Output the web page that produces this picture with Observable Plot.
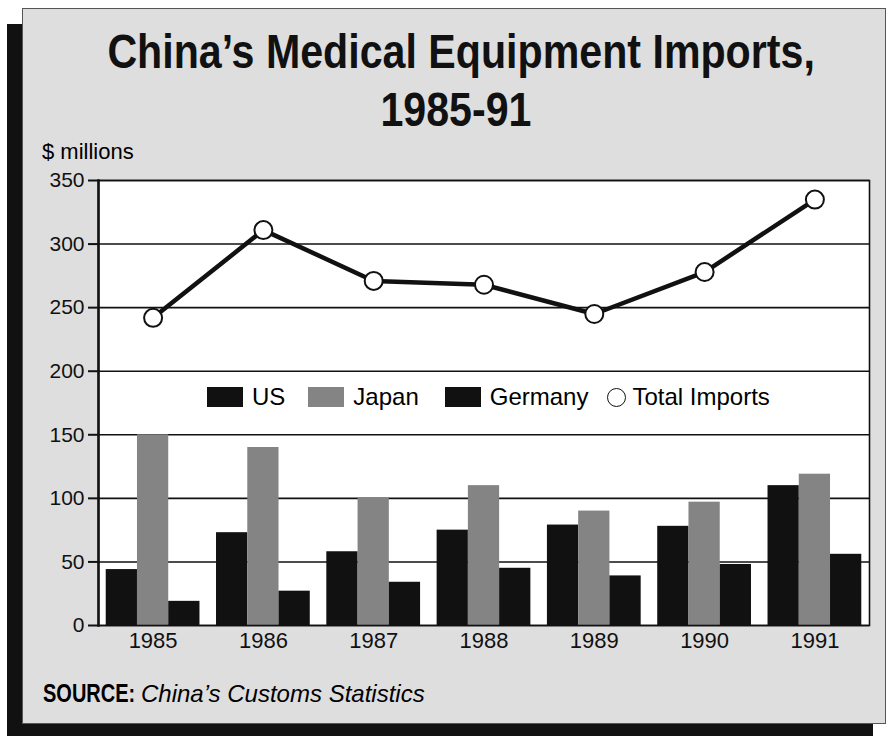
<!DOCTYPE html>
<html>
<head>
<meta charset="utf-8">
<script src="https://cdn.jsdelivr.net/npm/d3@7"></script>
<script src="https://cdn.jsdelivr.net/npm/@observablehq/plot@0.6"></script>
<style>
  html, body { margin: 0; padding: 0; background: #ffffff; }
  #page { position: relative; width: 889px; height: 736px; overflow: hidden; background: #ffffff; font-family: "Liberation Sans", Arial, Helvetica, sans-serif; color: #000; }
  #shadow { position: absolute; left: 7px; top: 24px; width: 866px; height: 712px; background: #111; }
  #panel { position: absolute; left: 22px; top: 8px; width: 864px; height: 716px; background: #dedede; border: 1px solid #555; box-sizing: border-box; }
  .tline { position: absolute; width: 889px; text-align: center; font-weight: bold; font-size: 49px; line-height: 49px; color: #111; white-space: nowrap; }
  .tline span { display: inline-block; transform: scaleX(0.84); transform-origin: center; }
  #t1 { left: 17px; top: 27px; }
  #t2 { left: 11px; top: 85px; }
  #unit { position: absolute; left: 42px; top: 141px; font-size: 22px; line-height: 22px; }
  #chart { position: absolute; left: 0; top: 165px; }
  #legend { position: absolute; left: 207px; top: 387px; display: flex; align-items: center; font-size: 24px; line-height: 24px; height: 20px; }
  .sw { width: 36px; height: 20px; display: inline-block; margin-right: 9px; }
  .item { display: flex; align-items: center; }
  .circ { width: 19px; height: 19px; border-radius: 50%; border: 1.6px solid #111; box-sizing: border-box; background: #fff; margin-right: 6px; }
  #srcb { position: absolute; left: 43px; top: 681px; font-size: 25px; line-height: 25px; font-weight: bold; transform: scaleX(0.8); transform-origin: left; white-space: nowrap; }
  #srci { position: absolute; left: 141px; top: 682px; font-size: 24px; line-height: 24px; font-style: italic; white-space: nowrap; }
</style>
</head>
<body>
<div id="page">
  <div id="shadow"></div>
  <div id="panel"></div>
  <div class="tline" id="t1"><span>China’s Medical Equipment Imports,</span></div>
  <div class="tline" id="t2"><span>1985-91</span></div>
  <div id="unit">$ millions</div>
  <div id="chart"></div>
  <div id="legend"></div>
  <div id="srcb">SOURCE:</div>
  <div id="srci">China’s Customs Statistics</div>
</div>
<script>
const years = ["1985", "1986", "1987", "1988", "1989", "1990", "1991"];
const usImports = [44, 73, 58, 75, 79, 78, 110];
const japanImports = [150, 140, 100, 110, 90, 97, 119];
const germanyImports = [19, 27, 34, 45, 39, 48, 56];
const totalImports = [242, 311, 271, 268, 245, 278, 335];
const yTicks = [0, 50, 100, 150, 200, 250, 300, 350];
const seriesNames = ["US", "Japan", "Germany"];
const seriesColors = ["#111111", "#848484", "#111111"];
const totalName = "Total Imports";

const rows = years.map((year, i) => ({
  year,
  US: usImports[i],
  Japan: japanImports[i],
  Germany: germanyImports[i],
  Total: totalImports[i]
}));

const W = 889, H = 500, ML = 98, MR = 20, MT = 15, MB = 40;
const padIn = 0.15, padOut = 0.07;
const step = (W - ML - MR) / (years.length - padIn + 2 * padOut);
const third = step * (1 - padIn) / 3;

const chart = Plot.plot({
  width: W,
  height: H,
  marginLeft: ML,
  marginRight: MR,
  marginTop: MT,
  marginBottom: MB,
  style: { background: "transparent", fontFamily: "'Liberation Sans', Arial, sans-serif", fontSize: "21px", color: "#000", overflow: "visible" },
  x: { domain: years, type: "band", paddingInner: padIn, paddingOuter: padOut, round: false, label: null },
  y: { domain: [0, 350], label: null },
  marks: [
    Plot.frame({ fill: "white", stroke: null }),
    Plot.ruleY(yTicks, { stroke: "#111", strokeWidth: 1.6 }),
    Plot.barY(rows, { x: "year", y: seriesNames[0], fill: seriesColors[0], insetLeft: 0, insetRight: 2 * third }),
    Plot.barY(rows, { x: "year", y: seriesNames[1], fill: seriesColors[1], insetLeft: third, insetRight: third }),
    Plot.barY(rows, { x: "year", y: seriesNames[2], fill: seriesColors[2], insetLeft: 2 * third, insetRight: 0 }),
    Plot.line(rows, { x: "year", y: "Total", stroke: "#111", strokeWidth: 4.5 }),
    Plot.dot(rows, { x: "year", y: "Total", r: 9, fill: "white", stroke: "#111", strokeWidth: 2 }),
    Plot.axisY({ ticks: yTicks, tickSize: 10, tickPadding: 4, stroke: "#111", strokeWidth: 2, fontSize: 21, fill: "#111" }),
    Plot.axisX({ tickSize: 0, tickPadding: 7, fontSize: 22, fill: "#111" }),
    Plot.frame({ stroke: "#111", strokeWidth: 1.6 }),
    Plot.frame({ anchor: "left", stroke: "#111", strokeWidth: 2.5 })
  ]
});
document.getElementById("chart").appendChild(chart);

// legend
const legend = document.getElementById("legend");
const gaps = [23, 26, 19];
seriesNames.forEach((name, i) => {
  const item = document.createElement("div");
  item.className = "item";
  item.style.marginRight = gaps[i] + "px";
  const sw = document.createElement("span");
  sw.className = "sw";
  sw.style.background = seriesColors[i];
  const t = document.createElement("span");
  t.textContent = name;
  item.appendChild(sw);
  item.appendChild(t);
  legend.appendChild(item);
});
const tItem = document.createElement("div");
tItem.className = "item";
const c = document.createElement("span");
c.className = "circ";
const tt = document.createElement("span");
tt.textContent = totalName;
tItem.appendChild(c);
tItem.appendChild(tt);
legend.appendChild(tItem);
</script>
</body>
</html>
